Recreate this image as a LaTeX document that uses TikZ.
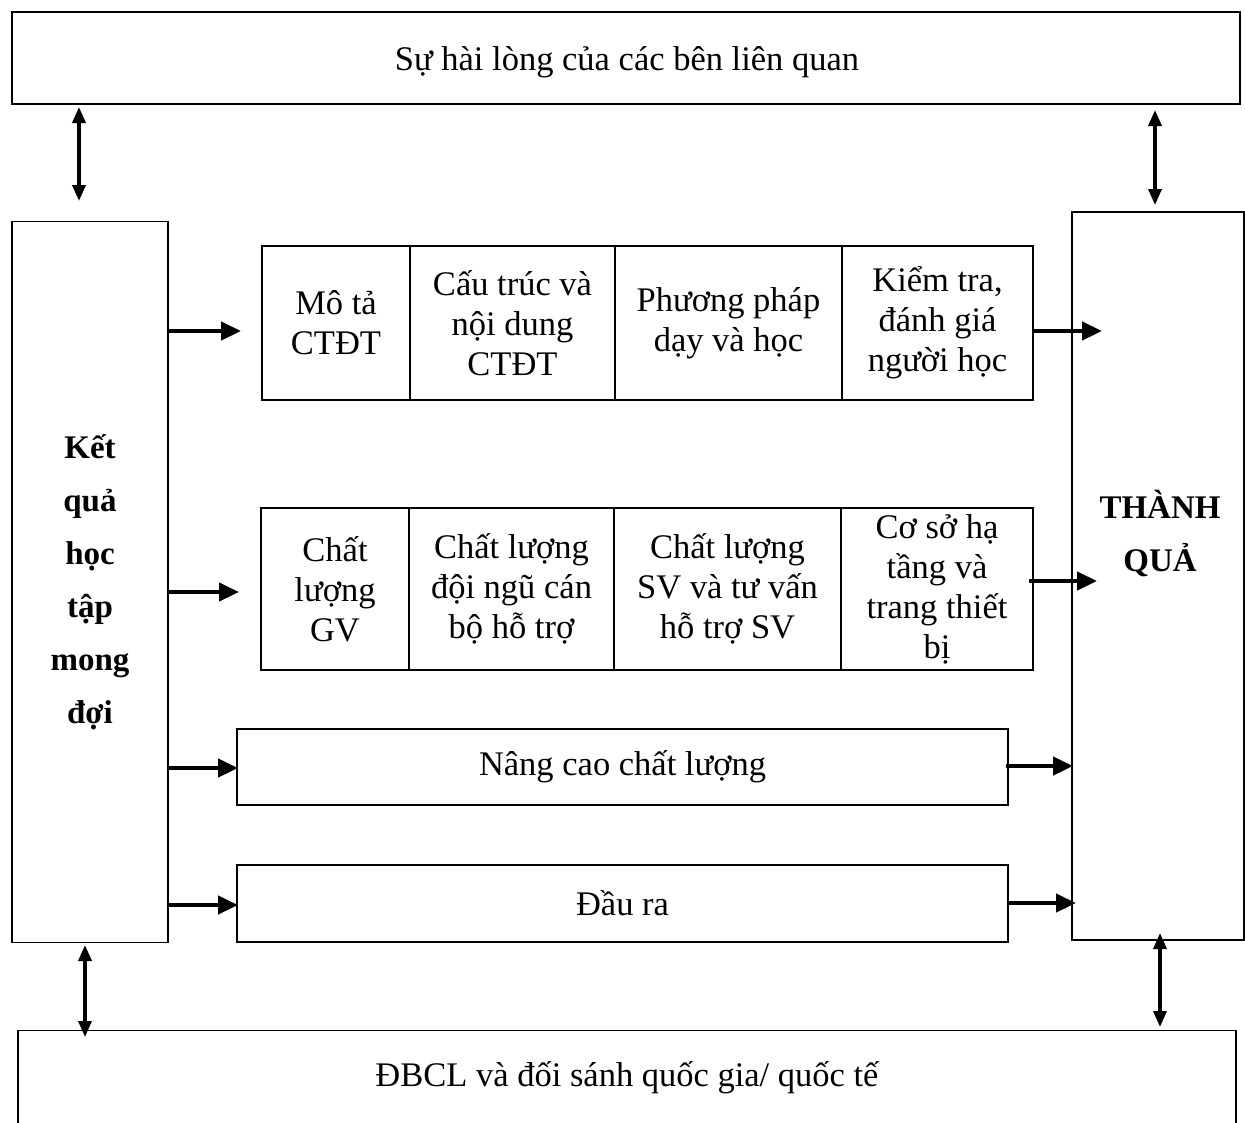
\documentclass[tikz,border=0pt]{standalone}
\usepackage{fontspec}
\setmainfont{Liberation Serif}
\usetikzlibrary{arrows.meta}
\begin{document}
\begin{tikzpicture}[x=1pt,y=-1pt,
  box/.style={draw=black,line width=1.8pt,inner sep=0pt,align=center,
    font=\fontsize{34.5}{40}\selectfont},
  txt/.style={font=\fontsize{34.5}{40}\selectfont,inner sep=0pt},
  bbox/.style={box,font=\fontsize{33}{53}\selectfont\bfseries},
  arr/.style={line width=4.5pt,-{Triangle[length=20pt,width=18pt]}},
  darr/.style={line width=3.5pt,{Triangle[length=16pt,width=13pt]}-{Triangle[length=16pt,width=13pt]}}]
\useasboundingbox (0,0) rectangle (1245,1122);
\fill[white] (0,0) rectangle (1245,1122);
% outer boxes
\node[box,minimum width=1228pt,minimum height=92pt] (top) at (626,58) {};
\node[txt] (topt) at (627,62) {Sự hài lòng của các bên liên quan};
\node[box,minimum width=1218pt,minimum height=95pt] (bot) at (627,1078) {};
\node[txt] (bott) at (627,1078) {ĐBCL và đối sánh quốc gia/ quốc tế};
\node[bbox,minimum width=156pt,minimum height=721pt] (left) at (90,582) {Kết\\quả\\học\\tập\\mong\\đợi};
\node[bbox,minimum width=172pt,minimum height=728pt] (right) at (1158,576) {};
\node[font=\fontsize{33}{53}\selectfont\bfseries,align=center] (rt) at (1160,534) {THÀNH\\QUẢ};
% row 1
\node[box,minimum width=148pt,minimum height=154pt] (a1) at (336,323) {Mô tả\\CTĐT};
\node[box,minimum width=205pt,minimum height=154pt] (a2) at (512.5,323) {Cấu trúc và\\nội dung\\CTĐT};
\node[box,minimum width=227pt,minimum height=154pt] (a3) at (728.5,323) {Phương pháp\\dạy và học};
\node[box,minimum width=191pt,minimum height=154pt] (a4) at (937.5,323) {Kiểm tra,\\đánh giá\\người học};
% row 2
\node[box,minimum width=148pt,minimum height=162pt] (b1) at (335,589) {Chất\\lượng\\GV};
\node[box,minimum width=205pt,minimum height=162pt] (b2) at (511.5,589) {Chất lượng\\đội ngũ cán\\bộ hỗ trợ};
\node[box,minimum width=227pt,minimum height=162pt] (b3) at (727.5,589) {Chất lượng\\SV và tư vấn\\hỗ trợ SV};
\node[box,minimum width=192pt,minimum height=162pt] (b4) at (937,589) {Cơ sở hạ\\tầng và\\trang thiết\\bị};
% rows 3,4
\node[box,minimum width=771pt,minimum height=76pt] (nc) at (622.5,767) {Nâng cao chất lượng};
\node[box,minimum width=771pt,minimum height=77pt] (dr) at (622.5,903.5) {Đầu ra};
% arrow end coordinates
\coordinate (e1) at (241,331);
\coordinate (e2) at (239,592);
\coordinate (e3) at (238,768);
\coordinate (e4) at (238,905);
\coordinate (f1) at (1102,331);
\coordinate (f2) at (1097,581);
\coordinate (f3) at (1073,766);
\coordinate (f4) at (1076,903);
\draw[arr] (left.east |- e1) -- (e1);
\draw[arr] (left.east |- e2) -- (e2);
\draw[arr] (left.east |- e3) -- (e3);
\draw[arr] (left.east |- e4) -- (e4);
\draw[arr] (a4.east |- f1) -- (f1);
\draw[arr] ([xshift=-5pt]b4.east |- f2) -- (f2);
\draw[arr] ([xshift=-3pt]nc.east |- f3) -- (f3);
\draw[arr] (dr.east |- f4) -- (f4);
% double arrows
\coordinate (g1) at (79,107); \coordinate (g2) at (79,201);
\coordinate (h1) at (1155,110); \coordinate (h2) at (1155,205);
\coordinate (k1) at (85,945); \coordinate (k2) at (85,1037);
\coordinate (m1) at (1160,933); \coordinate (m2) at (1160,1027);
\draw[darr] (g1) -- (g2);
\draw[darr] (h1) -- (h2);
\draw[darr] (k1) -- (k2);
\draw[darr] (m1) -- (m2);
\end{tikzpicture}
\end{document}
